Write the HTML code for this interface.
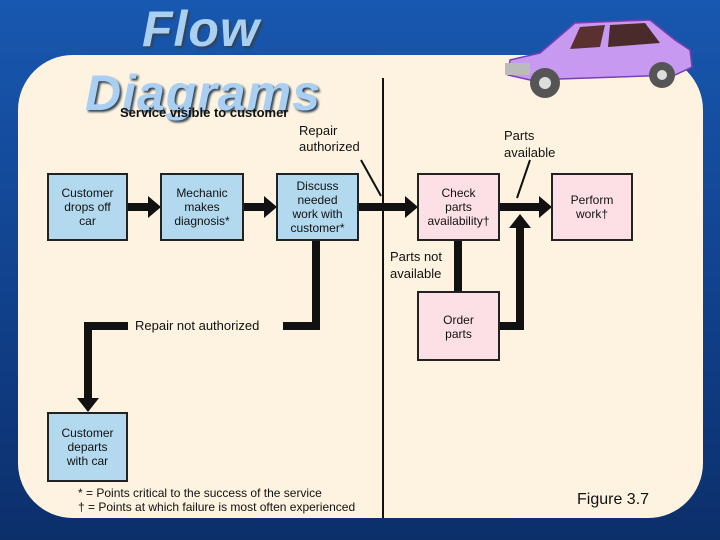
<!DOCTYPE html>
<html><head><style>
body{margin:0;width:720px;height:540px;overflow:hidden;background:linear-gradient(#1858b0,#103f88 60%,#0c2f6a);font-family:"Liberation Sans",sans-serif;position:relative}
.panel{position:absolute;left:18px;top:55px;width:685px;height:463px;background:#fdf3e0;border-radius:55px}
.t{position:absolute;font-size:12px;color:#111;line-height:14px}
.box{position:absolute;border:2px solid #222;box-sizing:border-box;display:flex;align-items:center;justify-content:center;text-align:center;font-size:12px;line-height:14px;color:#111}
.b{background:#b3d9ef}.p{background:#fde0e6}
.title{position:absolute;font-weight:bold;font-style:italic;color:#a9cff2;text-shadow:2px 2px 2px #345;font-size:50px;letter-spacing:1px}
</style></head><body>
<div class="panel"></div>
<div class="title" style="left:142px;top:0px">Flow</div>
<div class="title" style="left:85px;top:64px">Diagrams</div>
<div class="t" style="left:120px;top:106px;font-weight:bold;font-size:13px">Service visible to customer</div>
<svg style="position:absolute;left:0;top:0" width="720" height="540">
<line x1="383" y1="78" x2="383" y2="518" stroke="#111" stroke-width="2"/>
<g stroke="#111" stroke-width="8" fill="none">
<line x1="127" y1="207" x2="150" y2="207"/>
<line x1="243" y1="207" x2="266" y2="207"/>
<line x1="358" y1="207" x2="407" y2="207"/>
<line x1="499" y1="207" x2="541" y2="207"/>
<polyline points="316,240 316,326 283,326"/>
<polyline points="128,326 88,326 88,400"/>
<line x1="458" y1="240" x2="458" y2="302"/>
<polyline points="499,326 520,326 520,226"/>
</g>
<g fill="#111">
<polygon points="148,196 161,207 148,218"/>
<polygon points="264,196 277,207 264,218"/>
<polygon points="405,196 418,207 405,218"/>
<polygon points="539,196 552,207 539,218"/>
<polygon points="77,398 99,398 88,412"/>
<polygon points="448,298 468,298 458,312"/>
<polygon points="509,228 531,228 520,214"/>
</g>
<line x1="361" y1="160" x2="381" y2="196" stroke="#111" stroke-width="2"/>
<line x1="530" y1="160" x2="517" y2="198" stroke="#111" stroke-width="2"/>
<g transform="translate(500,15)">
<path d="M10,45 L40,38 L75,8 L150,5 L175,25 L190,35 L192,52 L175,60 L30,65 L8,60 Z" fill="#c899f0" stroke="#7a3fb0" stroke-width="1.5"/>
<path d="M80,12 L105,10 L100,32 L70,34 Z" fill="#5a3030"/>
<path d="M110,10 L145,8 L160,28 L108,32 Z" fill="#4a2a2a"/>
<rect x="5" y="48" width="25" height="12" fill="#bbb"/>
<circle cx="45" cy="68" r="15" fill="#555"/><circle cx="45" cy="68" r="6" fill="#ddd"/>
<circle cx="162" cy="60" r="13" fill="#555"/><circle cx="162" cy="60" r="5" fill="#ddd"/>
</g>
</svg>
<div class="t" style="left:299px;top:123px;font-size:13px;line-height:16px">Repair<br>authorized</div>
<div class="t" style="left:504px;top:127px;font-size:13px;line-height:17px">Parts<br>available</div>
<div class="box b" style="left:47px;top:173px;width:81px;height:68px">Customer<br>drops off<br>car</div>
<div class="box b" style="left:160px;top:173px;width:84px;height:68px">Mechanic<br>makes<br>diagnosis*</div>
<div class="box b" style="left:276px;top:173px;width:83px;height:68px">Discuss<br>needed<br>work with<br>customer*</div>
<div class="box p" style="left:417px;top:173px;width:83px;height:68px">Check<br>parts<br>availability†</div>
<div class="box p" style="left:551px;top:173px;width:82px;height:68px">Perform<br>work†</div>
<div class="t" style="left:390px;top:248px;font-size:13px;line-height:17px">Parts not<br>available</div>
<div class="box p" style="left:417px;top:291px;width:83px;height:70px;align-items:flex-start;padding-top:20px">Order<br>parts</div>
<div class="t" style="left:135px;top:319px;font-size:13px">Repair not authorized</div>
<div class="box b" style="left:47px;top:412px;width:81px;height:70px">Customer<br>departs<br>with car</div>
<div class="t" style="left:78px;top:486px">* = Points critical to the success of the service<br>† = Points at which failure is most often experienced</div>
<div class="t" style="left:577px;top:491px;font-size:16px;line-height:18px">Figure 3.7</div>
</body></html>
